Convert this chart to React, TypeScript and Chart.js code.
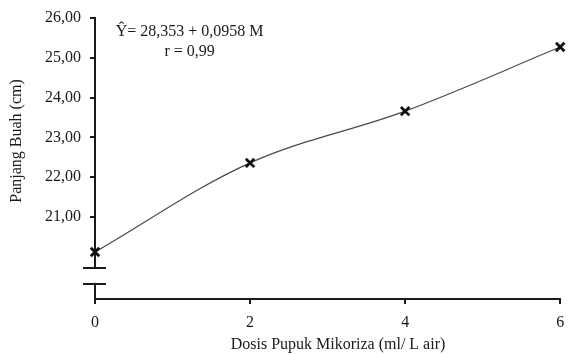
import React, { useEffect, useRef } from "react";
import { Chart, registerables } from "chart.js";

Chart.register(...registerables);

const doses = [0, 2, 4, 6];
const fruitLength = [20.12, 22.36, 23.66, 25.27];
const xTicks = [0, 2, 4, 6];
const yTicks = [21, 22, 23, 24, 25, 26];
const yMin = 18.94;
const yMax = 26;
const breakValues = [19.72, 19.32];
const equationLines = ["Ŷ= 28,353 + 0,0958 M", "r = 0,99"];
const equationAnchor = { x: 1.22, y: [25.66, 25.16] };
const yTitle = "Panjang Buah (cm)";
const xTitle = "Dosis Pupuk Mikoriza (ml/ L air)";

const FONT = "'Liberation Serif', 'Times New Roman', serif";
const INK = "#1a1a1a";

const decorPlugin = {
  id: "decor",
  afterDraw(chart: any) {
    const ctx = chart.ctx;
    const xs = chart.scales.x;
    const ys = chart.scales.y;
    const ax = xs.getPixelForValue(0);
    const b1 = ys.getPixelForValue(breakValues[0]);
    const b2 = ys.getPixelForValue(breakValues[1]);
    ctx.save();
    ctx.fillStyle = "#ffffff";
    ctx.fillRect(ax - 3, b1 + 1, 6, b2 - b1 - 2);
    ctx.strokeStyle = INK;
    ctx.lineWidth = 2;
    ctx.beginPath();
    ctx.moveTo(ax - 12, b1);
    ctx.lineTo(ax + 11, b1);
    ctx.moveTo(ax - 12, b2);
    ctx.lineTo(ax + 11, b2);
    ctx.stroke();

    ctx.fillStyle = INK;
    ctx.font = `16px ${FONT}`;
    ctx.textAlign = "center";
    ctx.textBaseline = "middle";
    const cx = xs.getPixelForValue(equationAnchor.x);
    ctx.fillText(equationLines[0], cx, ys.getPixelForValue(equationAnchor.y[0]));
    ctx.fillText(equationLines[1], cx, ys.getPixelForValue(equationAnchor.y[1]));

    ctx.fillText(xTitle, 338, 345);

    ctx.translate(17, 141);
    ctx.rotate(-Math.PI / 2);
    ctx.fillText(yTitle, 0, 0);
    ctx.restore();
  },
};

export default function App() {
  const ref = useRef<HTMLCanvasElement>(null);
  useEffect(() => {
    if (!ref.current) return;
    const chart = new Chart(ref.current, {
      type: "line",
      data: {
        datasets: [
          {
            data: doses.map((d, i) => ({ x: d, y: fruitLength[i] })),
            borderColor: "#4a4a4a",
            borderWidth: 1.2,
            tension: 0.35,
            pointStyle: "crossRot",
            pointRadius: 6,
            pointBorderWidth: 2.8,
            pointBorderColor: "#111",
            pointBackgroundColor: "#111",
            fill: false,
            clip: false,
          },
        ],
      },
      options: {
        responsive: false,
        animation: false,
        layout: { padding: { top: 18, right: 0, left: 0, bottom: 0 } },
        plugins: { legend: { display: false }, tooltip: { enabled: false } },
        scales: {
          x: {
            type: "linear",
            min: 0,
            max: 6,
            afterBuildTicks: (s: any) => {
              s.ticks = xTicks.map((v) => ({ value: v }));
            },
            afterFit: (s: any) => {
              s.height = 55;
              s.paddingRight = 0;
              s.paddingLeft = 0;
            },
            ticks: {
              color: INK,
              font: { family: FONT, size: 16 },
              padding: 9,
              maxRotation: 0,
            },
            grid: {
              drawOnChartArea: false,
              drawTicks: true,
              tickLength: 5,
              color: INK,
              lineWidth: 2,
            },
            border: { display: true, color: INK, width: 2 },
            title: { display: false },
          },
          y: {
            type: "linear",
            min: yMin,
            max: yMax,
            afterBuildTicks: (s: any) => {
              s.ticks = yTicks.map((v) => ({ value: v }));
            },
            afterFit: (s: any) => {
              s.width = 95;
              s.paddingTop = 0;
              s.paddingBottom = 0;
              s.paddingLeft = 0;
              s.paddingRight = 0;
            },
            ticks: {
              color: INK,
              font: { family: FONT, size: 16 },
              padding: 9,
              callback: (v: any) => Number(v).toFixed(2).replace(".", ","),
            },
            grid: {
              drawOnChartArea: false,
              drawTicks: true,
              tickLength: 5,
              color: INK,
              lineWidth: 2,
            },
            border: { display: true, color: INK, width: 2 },
          },
        },
      },
      plugins: [decorPlugin],
    } as any);
    return () => chart.destroy();
  }, []);
  return (
    <div style={{ position: "fixed", left: 0, top: 0, width: 569, height: 354, background: "#fff" }}>
      <canvas ref={ref} width={569} height={354} />
    </div>
  );
}
